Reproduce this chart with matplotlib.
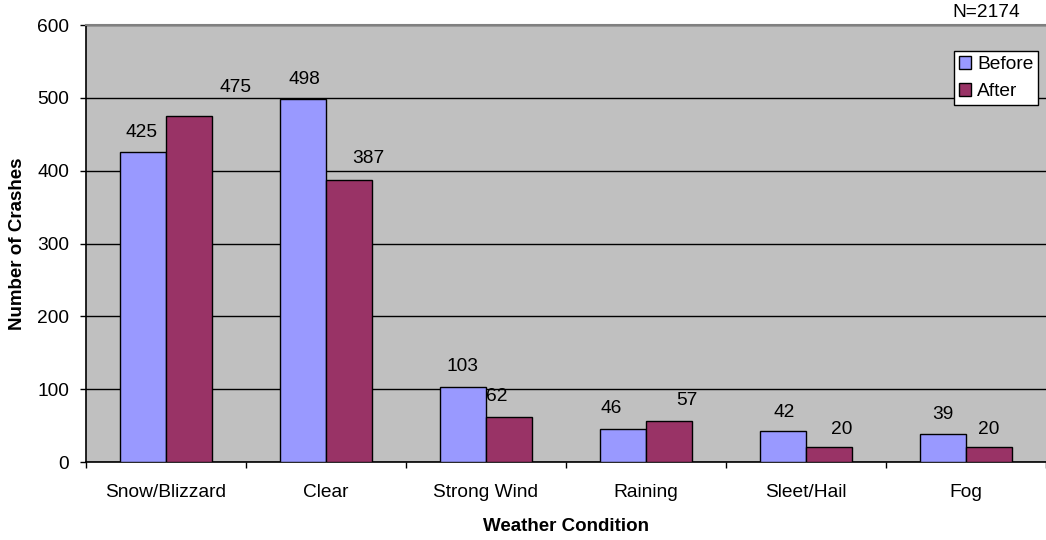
import matplotlib.pyplot as plt
import numpy as np

# Crash counts by weather condition
conditions = ['Snow/Blizzard', 'Clear', 'Strong Wind', 'Raining', 'Sleet/Hail', 'Fog']
before = [425, 498, 103, 46, 42, 39]
after = [475, 387, 62, 57, 20, 20]
total_n = 2174

# label nudges in pixels (x, y) so the numbers sit like the original layout
before_nudge = [(-1, 20), (2, 20), (0, 21), (-12, 20), (1, 19), (0, 19)]
after_nudge = [(46, 29), (19, 22), (-12, 20), (18, 20), (12, 18), (-1, 18)]

plt.rcParams['font.family'] = ['Liberation Sans', 'DejaVu Sans']
fs = 13.8

fig = plt.figure(figsize=(10.46, 5.4), dpi=100)
ax = fig.add_axes([0.0822, 0.1444, 0.9178, 0.8093])
ax.set_facecolor('#C0C0C0')

x = np.arange(len(conditions))
w = 0.29
ax.yaxis.grid(True, color='black', linewidth=1)
ax.set_axisbelow(True)
b1 = ax.bar(x - w / 2, before, w, color='#9999FF', edgecolor='black', linewidth=1, label='Before', zorder=3)
b2 = ax.bar(x + w / 2, after, w, color='#993366', edgecolor='black', linewidth=1, label='After', zorder=3)

for rect, v, (dx, dy) in zip(b1, before, before_nudge):
    ax.annotate(str(v), (rect.get_x() + rect.get_width() / 2, v), xytext=(dx, dy),
                textcoords='offset pixels', ha='center', va='center', fontsize=fs)
for rect, v, (dx, dy) in zip(b2, after, after_nudge):
    ax.annotate(str(v), (rect.get_x() + rect.get_width() / 2, v), xytext=(dx, dy),
                textcoords='offset pixels', ha='center', va='center', fontsize=fs)

ax.set_xlim(-0.5, len(conditions) - 0.5)
ax.set_ylim(0, 600)
ax.set_yticks(np.arange(0, 601, 100))
ax.set_xticks(x)
ax.set_xticklabels(conditions)
ax.set_xticks(np.arange(-0.5, len(conditions) - 0.4, 1), minor=True)
ax.tick_params(axis='x', which='major', length=0, pad=16, labelsize=fs)
ax.tick_params(axis='x', which='minor', length=4, width=1, direction='out')
ax.tick_params(axis='y', length=4, width=1, pad=8, labelsize=fs)

ax.spines['right'].set_visible(False)
ax.spines['top'].set_color('#808080')
ax.spines['top'].set_linewidth(1.5)
ax.spines['left'].set_linewidth(1.2)
ax.spines['bottom'].set_linewidth(1.2)

ax.set_xlabel('Weather Condition', fontsize=13.5, fontweight='bold')
ax.set_ylabel('Number of Crashes', fontsize=13.5, fontweight='bold')
ax.xaxis.set_label_coords(0.5, -0.127)
ax.yaxis.set_label_coords(-0.062, 0.5)

leg = ax.legend(loc='upper right', bbox_to_anchor=(0.992, 0.94), fontsize=fs,
                fancybox=False, framealpha=1, edgecolor='black',
                handlelength=0.65, handleheight=0.65, handletextpad=0.3,
                borderpad=0.25, labelspacing=0.5, borderaxespad=0)
leg.get_frame().set_linewidth(1)

fig.text(0.975, 0.976, f'N={total_n}', ha='right', va='center', fontsize=fs)

fig.savefig('out.png', dpi=100)
